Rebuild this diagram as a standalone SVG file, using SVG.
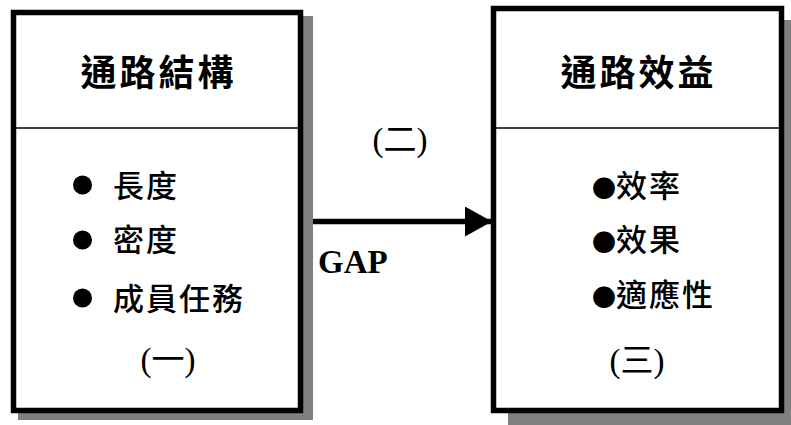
<svg xmlns="http://www.w3.org/2000/svg" width="791" height="425" viewBox="0 0 791 425">
<style>
.shadow{fill:#808080;stroke:none}
.box{fill:#fff;stroke:#000;stroke-width:5.5}
.div{stroke:#000;stroke-width:1.5}
.title{font-family:"Noto Sans CJK TC","Noto Sans CJK SC",sans-serif;font-weight:bold;font-size:36px;letter-spacing:3px;text-anchor:middle;fill:#000}
.item{font-family:"Noto Sans CJK TC","Noto Sans CJK SC",sans-serif;font-size:31px;font-weight:500;letter-spacing:2px;fill:#000}
.bul{font-size:24px;letter-spacing:0}
.num{font-family:"Liberation Serif","Noto Sans CJK TC",serif;font-size:33px;text-anchor:middle;fill:#000}
.gap{font-family:"Liberation Serif",serif;font-weight:bold;font-size:33px;fill:#000}
</style>
<defs>
<marker id="ah" markerWidth="28" markerHeight="30" refX="27" refY="15" orient="auto" markerUnits="userSpaceOnUse">
<path d="M0,0 L27,15 L0,30 Z" fill="#000"/>
</marker>
</defs>
<g id="node-structure">
<rect class="shadow" x="18" y="16" width="295" height="404"/>
<rect class="box" x="13.5" y="12.5" width="287" height="398"/>
<line class="div" x1="16" y1="128" x2="298" y2="128"/>
<text class="title" x="158.5" y="86">通路結構</text>
<circle cx="82.5" cy="185" r="9.5" fill="#000"/>
<circle cx="82.5" cy="240" r="9.5" fill="#000"/>
<circle cx="82.5" cy="298" r="9.5" fill="#000"/>
<text class="item" x="113" y="197">長度</text>
<text class="item" x="113" y="251">密度</text>
<text class="item" x="113" y="310">成員任務</text>
<text class="num" x="168" y="371">(一)</text>
</g>
<g id="node-performance">
<rect class="shadow" x="508" y="20" width="290" height="410"/>
<rect class="box" x="493.5" y="8.5" width="288" height="402"/>
<line class="div" x1="496" y1="128" x2="779" y2="128"/>
<text class="title" x="638.5" y="86">通路效益</text>
<text class="item" x="592" y="197"><tspan class="bul">●</tspan>效率</text>
<text class="item" x="592" y="251"><tspan class="bul">●</tspan>效果</text>
<text class="item" x="592" y="306"><tspan class="bul">●</tspan>適應性</text>
<text class="num" x="637" y="372">(三)</text>
</g>
<g id="connectors">
<line x1="313" y1="221.5" x2="492" y2="221.5" stroke="#000" stroke-width="5.5" marker-end="url(#ah)"/>
<text class="num" x="400" y="151">(二)</text>
<text class="gap" x="318" y="273">GAP</text>
</g>
</svg>
